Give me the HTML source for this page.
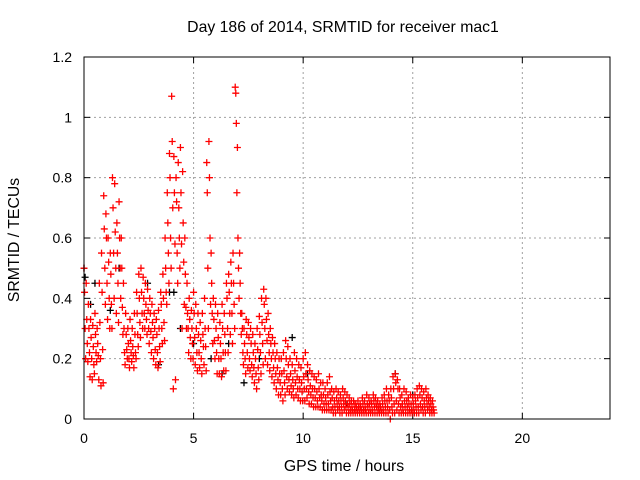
<!DOCTYPE html>
<html><head><meta charset="utf-8"><style>
body{margin:0;background:#fff}
svg{display:block;font-family:"Liberation Sans",sans-serif}
</style></head><body>
<svg id="chart" width="640" height="480" viewBox="0 0 640 480">
<rect width="640" height="480" fill="#fff"/>
<g id="grid"></g>
<g id="ticks"></g>
<g id="black"></g>
<g id="red"></g>
<rect x="84" y="57" width="526" height="362" fill="none" stroke="#000" stroke-width="1"/>
<text x="343" y="32" font-size="15.8" text-anchor="middle">Day 186 of 2014, SRMTID for receiver mac1</text>
<text x="344" y="471" font-size="15.8" text-anchor="middle">GPS time / hours</text>
<text transform="translate(19,240) rotate(-90)" font-size="15.8" text-anchor="middle">SRMTID / TECUs</text>
</svg>
<script>
const xTicks=[0,5,10,15,20];
const yTicks=[0,0.2,0.4,0.6,0.8,1,1.2];
const yTickLabels=["0","0.2","0.4","0.6","0.8","1","1.2"];
const binStart=0, binStep=0.1;
const redValues=[
[0.5,0.42,0.3,0.2],[0.45,0.33,0.25,0.19],[0.38,0.3,0.22,0.14],[0.33,0.27,0.2,0.13],[0.31,0.24,0.18,0.15],
[0.35,0.28,0.22,0.19],[0.3,0.25,0.21,0.13],[0.45,0.32,0.2,0.11],[0.55,0.42,0.23,0.12],[0.74,0.63,0.5,0.38],
[0.68,0.6,0.45,0.33],[0.6,0.52,0.4,0.3],[0.55,0.48,0.38,0.3],[0.8,0.7,0.55,0.4],[0.78,0.62,0.5,0.35],
[0.65,0.55,0.45,0.32],[0.72,0.6,0.5,0.4],[0.6,0.5,0.37,0.28],[0.45,0.3,0.22,0.18],[0.35,0.28,0.23,0.2],
[0.3,0.25,0.2,0.17],[0.33,0.26,0.22,0.19],[0.3,0.24,0.21,0.17],[0.35,0.28,0.22,0.2],[0.42,0.35,0.28,0.24],
[0.48,0.4,0.32,0.27],[0.5,0.42,0.35,0.3],[0.47,0.4,0.35,0.3],[0.45,0.38,0.33,0.28],[0.43,0.36,0.3,0.25],
[0.4,0.35,0.29,0.22],[0.38,0.32,0.27,0.2],[0.35,0.3,0.23,0.18],[0.33,0.28,0.22,0.17],[0.36,0.3,0.24,0.19],
[0.42,0.38,0.3,0.25],[0.48,0.4,0.32,0.26],[0.6,0.5,0.42,0.38],[0.75,0.65,0.55,0.45],[0.88,0.8,0.6,0.5],
[1.07,0.92,0.7,0.1],[0.87,0.75,0.58,0.13],[0.8,0.72,0.55,0.45],[0.85,0.7,0.6,0.5],[0.9,0.75,0.58,0.3],
[0.82,0.65,0.52,0.38],[0.6,0.48,0.37,0.3],[0.45,0.35,0.3,0.22],[0.4,0.33,0.27,0.2],[0.36,0.3,0.25,0.2],
[0.42,0.35,0.27,0.18],[0.38,0.3,0.22,0.16],[0.35,0.28,0.22,0.17],[0.32,0.26,0.2,0.15],[0.35,0.28,0.24,0.18],
[0.4,0.3,0.24,0.16],[0.85,0.75,0.5,0.3],[0.92,0.8,0.6,0.38],[0.55,0.45,0.35,0.25],[0.4,0.33,0.26,0.2],
[0.38,0.3,0.22,0.15],[0.35,0.27,0.2,0.15],[0.32,0.25,0.2,0.14],[0.38,0.3,0.22,0.16],[0.35,0.28,0.22,0.16],
[0.45,0.4,0.3,0.22],[0.48,0.42,0.35,0.28],[0.52,0.45,0.35,0.25],[0.55,0.45,0.38,0.3],[1.1,1.08,0.98,0.75],
[0.9,0.6,0.5,0.4],[0.55,0.45,0.35,0.28],[0.35,0.3,0.22,0.18],[0.3,0.25,0.2,0.15],[0.33,0.28,0.22,0.17],
[0.32,0.27,0.2,0.16],[0.3,0.25,0.18,0.14],[0.28,0.22,0.17,0.12],[0.25,0.2,0.15,0.1],[0.3,0.23,0.17,0.13],
[0.34,0.28,0.22,0.15],[0.4,0.32,0.25,0.18],[0.43,0.38,0.3,0.2],[0.4,0.33,0.26,0.18],[0.35,0.28,0.22,0.16],
[0.3,0.25,0.2,0.14],[0.27,0.22,0.17,0.12],[0.25,0.2,0.15,0.1],[0.22,0.17,0.13,0.08],[0.2,0.15,0.12,0.08],
[0.2,0.15,0.1,0.06],[0.22,0.16,0.12,0.08],[0.26,0.2,0.14,0.1],[0.24,0.18,0.13,0.09],[0.2,0.15,0.11,0.08],
[0.18,0.13,0.1,0.07],[0.22,0.16,0.12,0.08],[0.2,0.14,0.1,0.07],[0.18,0.13,0.1,0.06],[0.17,0.12,0.09,0.06],
[0.2,0.14,0.1,0.06],[0.22,0.15,0.1,0.07],[0.18,0.13,0.09,0.05],[0.16,0.11,0.08,0.05],[0.15,0.1,0.07,0.04],
[0.14,0.1,0.07,0.04],[0.13,0.09,0.06,0.04],[0.15,0.1,0.07,0.04],[0.12,0.08,0.06,0.03],[0.12,0.08,0.05,0.03],
[0.1,0.07,0.05,0.03],[0.12,0.08,0.05,0.03],[0.14,0.09,0.06,0.03],[0.1,0.07,0.04,0.02],[0.09,0.06,0.04,0.02],
[0.1,0.07,0.05,0.03],[0.09,0.06,0.04,0.02],[0.08,0.06,0.04,0.02],[0.1,0.07,0.05,0.03],[0.09,0.06,0.04,0.02],
[0.08,0.05,0.04,0.02],[0.07,0.05,0.03,0.02],[0.06,0.04,0.03,0.02],[0.06,0.05,0.03,0.02],[0.05,0.04,0.03,0.02],
[0.06,0.04,0.03,0.02],[0.05,0.04,0.03,0.02],[0.07,0.05,0.03,0.02],[0.06,0.04,0.03,0.02],[0.08,0.05,0.04,0.02],
[0.07,0.05,0.03,0.02],[0.06,0.05,0.03,0.02],[0.08,0.06,0.04,0.02],[0.07,0.05,0.04,0.02],[0.06,0.04,0.03,0.02],
[0.05,0.04,0.03,0.02],[0.07,0.05,0.03,0.02],[0.08,0.06,0.04,0.02],[0.1,0.06,0.04,0.02],[0.08,0.06,0.03,0.0],
[0.1,0.07,0.04,0.02],[0.14,0.1,0.05,0.02],[0.15,0.12,0.06,0.03],[0.13,0.1,0.05,0.02],[0.1,0.07,0.04,0.02],
[0.08,0.05,0.03,0.02],[0.1,0.06,0.04,0.02],[0.09,0.06,0.04,0.02],[0.07,0.05,0.03,0.02],[0.08,0.05,0.03,0.02],
[0.07,0.05,0.03,0.02],[0.08,0.06,0.04,0.02],[0.1,0.07,0.04,0.02],[0.11,0.08,0.05,0.03],[0.1,0.07,0.04,0.02],
[0.09,0.06,0.04,0.02],[0.1,0.07,0.05,0.03],[0.08,0.06,0.04,0.02],[0.07,0.05,0.03,0.02],[0.06,0.04,0.03,0.02]
];
const blackHours=[0.0,0.05,0.3,0.5,1.2,1.6,2.9,3.4,3.9,4.1,4.4,5.0,5.8,6.3,6.6,7.3,8.0,9.5,10.2,12.0,14.2,15.0];
const blackValues=[0.5,0.47,0.38,0.45,0.36,0.5,0.45,0.18,0.42,0.42,0.3,0.25,0.2,0.15,0.25,0.12,0.2,0.27,0.15,0.05,0.15,0.08];

const X0=84,X1=610,Y0=419,Y1=57;
const xs=h=>X0+h/24*(X1-X0);
const ys=v=>Y0-v/1.2*(Y0-Y1);
const NS="http://www.w3.org/2000/svg";
function mk(tag,attrs,parent){const e=document.createElementNS(NS,tag);for(const k in attrs)e.setAttribute(k,attrs[k]);parent.appendChild(e);return e;}
const grid=document.getElementById('grid'),ticks=document.getElementById('ticks');
xTicks.forEach(t=>{
  const x=xs(t);
  if(t>0){const g=mk('line',{x1:x,x2:x,y1:Y0,y2:Y1,stroke:'#a0a0a0','stroke-dasharray':'2,3'},grid);
  
  }
  mk('line',{x1:x,x2:x,y1:Y0,y2:Y0-6,stroke:'#000'},ticks);
  mk('line',{x1:x,x2:x,y1:Y1,y2:Y1+6,stroke:'#000'},ticks);
  const l=mk('text',{x:x,y:443,'font-size':14,'text-anchor':'middle'},ticks);l.textContent=t;
  
  
});
yTicks.forEach((t,i)=>{
  const y=ys(t);
  if(t>0&&t<1.2){const g=mk('line',{x1:X0,x2:X1,y1:y,y2:y,stroke:'#a0a0a0','stroke-dasharray':'2,3'},grid);
  
  }
  mk('line',{x1:X0,x2:X0+6,y1:y,y2:y,stroke:'#000'},ticks);
  mk('line',{x1:X1,x2:X1-6,y1:y,y2:y,stroke:'#000'},ticks);
  const l=mk('text',{x:72,y:y+5,'font-size':14,'text-anchor':'end'},ticks);l.textContent=yTickLabels[i];
  
  
});
function plus(g,h,v,color){
  const x=xs(h),y=ys(v);
  const p=mk('path',{d:`M${x-3.5},${y}H${x+3.5}M${x},${y-3.5}V${y+3.5}`,stroke:color,'stroke-width':1.3,fill:'none'},g);
  
  
}
const blackG=document.getElementById('black'),redG=document.getElementById('red');
blackHours.forEach((h,i)=>plus(blackG,h,blackValues[i],'#000'));
redValues.forEach((vals,i)=>{
  const h=binStart+i*binStep;
  vals.forEach((v,k)=>plus(redG,h+k*binStep/4,v,'#ff0000'));
});
</script>
</body></html>
